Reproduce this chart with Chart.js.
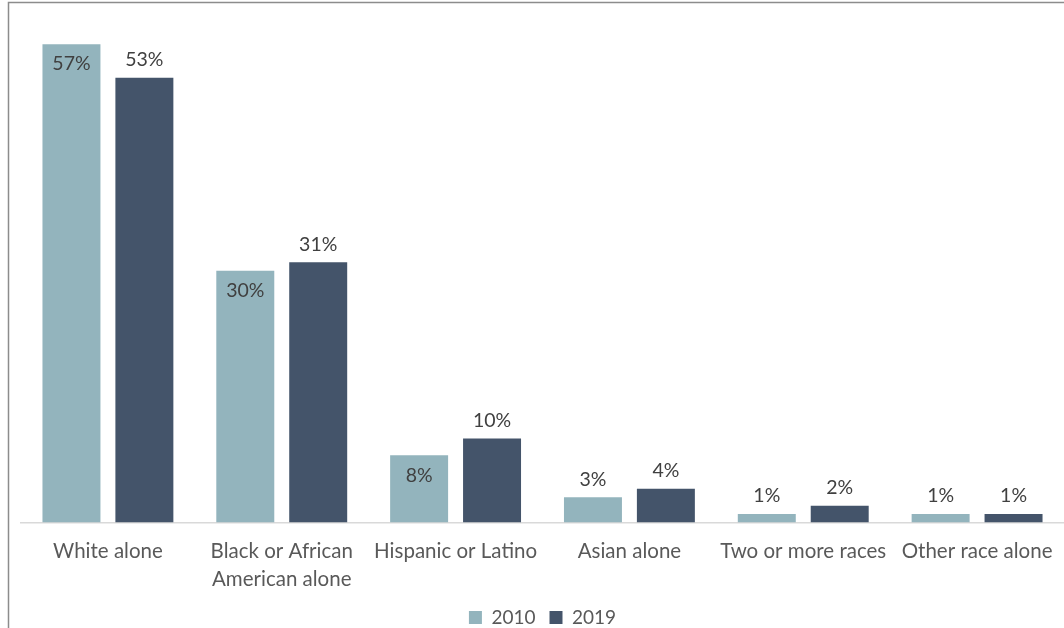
<!DOCTYPE html>
<html>
<head>
<meta charset="utf-8">
<script src="https://cdn.jsdelivr.net/npm/chart.js@4"></script>
<style>
  html, body { margin: 0; padding: 0; background: #fff; overflow: hidden; }
  #wrap { width: 1064px; height: 628px; overflow: hidden; }
</style>
</head>
<body>
<div id="wrap"><canvas id="myChart" width="1064" height="637"></canvas></div>
<script>
var categories = ['White alone', ['Black or African', 'American alone'], 'Hispanic or Latino', 'Asian alone', 'Two or more races', 'Other race alone'];
var seriesNames = ['2010', '2019'];
var values2010 = [57, 30, 8, 3, 1, 1];
var values2019 = [53, 31, 10, 4, 2, 1];
var barColors = ['#93B4BD', '#44546A'];

var fontFamily = 'Lato, "Open Sans", sans-serif';

// outer frame line (top and left edges)
var framePlugin = {
  id: 'frame',
  beforeDraw: function (chart) {
    var ctx = chart.ctx;
    ctx.save();
    ctx.strokeStyle = '#8c8c8c';
    ctx.lineWidth = 1.5;
    ctx.beginPath();
    ctx.moveTo(8.5, chart.height);
    ctx.lineTo(8.5, 2.5);
    ctx.lineTo(chart.width, 2.5);
    ctx.stroke();
    ctx.restore();
  }
};

// percentage labels: 2010 sits inside the top of tall bars, everything else above
var valueLabels = {
  id: 'valueLabels',
  afterDatasetsDraw: function (chart) {
    var ctx = chart.ctx;
    ctx.save();
    ctx.font = '19.5px ' + fontFamily;
    ctx.fillStyle = '#404040';
    ctx.textAlign = 'center';
    ctx.textBaseline = 'middle';
    chart.data.datasets.forEach(function (ds, di) {
      var meta = chart.getDatasetMeta(di);
      meta.data.forEach(function (bar, i) {
        var v = ds.data[i];
        var y = (di === 0 && v >= 5) ? bar.y + 20 : bar.y - 18;
        ctx.fillText(v + '%', bar.x, y);
      });
    });
    ctx.restore();
  }
};

new Chart('myChart', {
  type: 'bar',
  data: {
    labels: categories,
    datasets: [
      { label: seriesNames[0], data: values2010, backgroundColor: barColors[0] },
      { label: seriesNames[1], data: values2019, backgroundColor: barColors[1] }
    ]
  },
  options: {
    responsive: false,
    animation: false,
    categoryPercentage: 0.839,
    barPercentage: 0.795,
    layout: { padding: { left: 21, right: 0, top: 19, bottom: 0 } },
    scales: {
      y: { display: false, min: 0, max: 60 },
      x: {
        grid: { display: false },
        border: { display: true, color: '#d9d9d9', width: 1.5 },
        ticks: {
          color: '#595959',
          font: { family: fontFamily, size: 20.5, lineHeight: 1.38 },
          padding: 7,
          autoSkip: false,
          maxRotation: 0
        },
        afterFit: function (scale) { scale.height -= 7; }
      }
    },
    plugins: {
      tooltip: { enabled: false },
      legend: {
        position: 'bottom',
        labels: {
          color: '#595959',
          font: { family: fontFamily, size: 19 },
          boxWidth: 13,
          boxHeight: 13,
          padding: 14
        }
      }
    }
  },
  plugins: [framePlugin, valueLabels]
});
</script>
</body>
</html>
